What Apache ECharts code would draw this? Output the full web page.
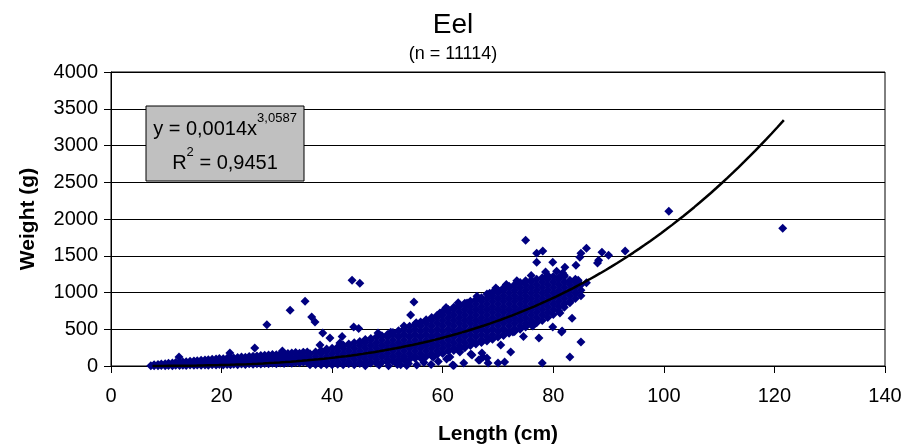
<!DOCTYPE html>
<html>
<head>
<meta charset="utf-8">
<script src="https://cdn.jsdelivr.net/npm/echarts@6/dist/echarts.min.js"></script>
<style>
  html, body { margin: 0; padding: 0; background: #fff; }
  #chart { width: 906px; height: 448px; }
</style>
</head>
<body>
<div id="chart"></div>
<script>
// Eel length-weight measurements (length in cm, weight in g)

// Small eels: dense strip near the x axis, weights listed per length
const smallLength = [7.2, 7.8, 8.5, 9.1, 9.8, 10.4, 11.1, 11.7, 12.4, 13.0, 13.6, 14.3, 15.0, 15.6,
  16.3, 17.0, 17.6, 18.3, 19.0, 19.6, 20.3, 21.0, 21.6, 22.2, 22.9, 23.6, 24.3, 25.0, 25.7, 26.4,
  27.1, 27.8, 28.5, 29.2, 29.9, 30.6, 31.3, 32.0, 32.7, 33.4, 34.1, 34.8, 35.5];
const smallWeight = [[3], [4, 18], [2, 22], [6, 28], [4, 31], [8, 36], [5, 41], [9, 47], [6, 30, 52],
  [11, 56], [7, 33, 59], [12, 40, 63], [9, 38, 68], [14, 44, 71], [10, 42, 77], [15, 48, 81],
  [11, 47, 86], [17, 54, 92], [12, 52, 96], [19, 60, 101], [14, 57, 99], [21, 63, 106],
  [16, 62, 112], [23, 66, 109], [18, 67, 117], [26, 72, 121], [20, 70, 119], [29, 78, 128],
  [23, 77, 132], [31, 84, 137], [26, 83, 142], [34, 90, 147], [29, 88, 151], [37, 96, 156],
  [31, 92, 152], [41, 101, 161], [35, 100, 166], [45, 107, 171], [39, 108, 176], [49, 115, 182],
  [43, 108, 172], [53, 119, 186], [47, 118, 191]];

// Main body of the sample, weights listed per length
const coreLength = [36, 37, 38, 39, 40, 41, 42, 43, 44, 45, 46, 47, 48, 49, 50, 51, 52, 53, 54, 55,
  56, 57, 58, 59, 60, 61, 62, 63, 64, 65, 66, 67, 68, 69, 70, 71, 72, 73, 74, 75, 76, 77, 78, 79,
  80, 81, 82, 83, 84, 85];
const coreWeight = [
  [18, 93, 168], [20, 55, 130, 190], [18, 93, 168, 210], [22, 55, 130, 205, 230],
  [18, 93, 168, 240], [25, 55, 130, 205, 260], [18, 93, 168, 243, 285],
  [30, 55, 130, 205, 280, 300], [18, 93, 168, 243, 315], [35, 55, 130, 205, 280, 335],
  [30, 93, 168, 243, 318, 360], [40, 55, 130, 205, 280, 355, 375],
  [40, 93, 168, 243, 318, 393], [50, 130, 205, 280, 355, 410],
  [55, 93, 168, 243, 318, 393, 430], [65, 130, 205, 280, 355, 430, 455],
  [70, 93, 168, 243, 318, 393, 468, 480], [85, 130, 205, 280, 355, 430, 505],
  [93, 168, 243, 318, 393, 468, 540], [105, 130, 205, 280, 355, 430, 505, 565],
  [110, 168, 243, 318, 393, 468, 543, 600], [130, 205, 280, 355, 430, 505, 580, 630],
  [140, 168, 243, 318, 393, 468, 543, 618, 660], [155, 205, 280, 355, 430, 505, 580, 655, 690],
  [170, 243, 318, 393, 468, 543, 618, 693, 740], [205, 280, 355, 430, 505, 580, 655, 730, 770],
  [210, 243, 318, 393, 468, 543, 618, 693, 768, 800], [230, 280, 355, 430, 505, 580, 655, 730, 805, 830],
  [250, 318, 393, 468, 543, 618, 693, 768, 843, 855], [280, 355, 430, 505, 580, 655, 730, 805, 880],
  [300, 318, 393, 468, 543, 618, 693, 768, 843, 905], [320, 355, 430, 505, 580, 655, 730, 805, 880, 930],
  [340, 393, 468, 543, 618, 693, 768, 843, 918, 980], [365, 430, 505, 580, 655, 730, 805, 880, 955, 1000],
  [393, 468, 543, 618, 693, 768, 843, 918, 993, 1030], [415, 430, 505, 580, 655, 730, 805, 880, 955, 1030, 1060],
  [445, 468, 543, 618, 693, 768, 843, 918, 993, 1068, 1085], [470, 505, 580, 655, 730, 805, 880, 955, 1030, 1105],
  [500, 543, 618, 693, 768, 843, 918, 993, 1068, 1135], [530, 580, 655, 730, 805, 880, 955, 1030, 1105, 1160],
  [560, 618, 693, 768, 843, 918, 993, 1068, 1143, 1165], [590, 655, 730, 805, 880, 955, 1030, 1105, 1180],
  [618, 693, 768, 843, 918, 993, 1068, 1143, 1200], [660, 730, 805, 880, 955, 1030, 1105, 1180, 1230],
  [700, 768, 843, 918, 993, 1068, 1143, 1218], [750, 805, 880, 955, 1030, 1105, 1180, 1205],
  [800, 843, 918, 993, 1068, 1143, 1218, 1235], [860, 880, 955, 1030, 1105, 1165],
  [918, 993, 1068, 1143, 1180], [955, 1030, 1105]
];

// Individual fish away from the main body: [length, weight]
const lowOutliers = [[46, 5], [48.5, 12], [50.2, 3], [51.8, 20], [52.4, 18], [53.5, 8], [53.8, 35],
  [55.3, 12], [56.6, 48], [57.9, 22], [58.3, 120], [59.2, 60], [60.7, 95], [61.3, 122], [61.8, 14],
  [62, 8], [63.1, 190], [63.8, 40], [65.1, 163], [65.3, 150], [66.5, 82], [66.7, 82], [67.1, 177],
  [67.3, 122], [68, 109], [68.2, 41], [70, 41], [70.5, 285], [71.2, 54], [72.3, 190], [72.7, 462],
  [74.6, 400], [76.3, 543], [77.4, 380], [78, 41], [79.9, 530], [81.5, 462], [81.2, 720],
  [81.6, 476], [83, 122], [83.4, 650], [85, 326]];
const highOutliers = [[12.3, 122], [21.5, 176], [26, 245], [28.2, 560], [31, 205], [32.4, 760],
  [34.7, 176], [35.1, 880], [36.3, 665], [36.9, 600], [37.8, 285], [38.3, 450], [39.6, 380],
  [41.4, 312], [41.8, 400], [43.6, 1165], [45, 1125], [43.9, 530], [44.8, 510], [48.3, 448],
  [50.6, 460], [53, 545], [54.2, 695], [54.8, 870], [55.2, 590], [59.5, 720], [60.6, 795],
  [62.8, 860], [64.4, 856], [66.2, 950], [68.5, 990], [69.6, 1060], [71.5, 1110], [73.4, 1160],
  [75, 1712], [76, 1230], [77, 1535], [78.1, 1563], [77, 1413], [78.6, 1280], [79.9, 1413],
  [80.6, 1290], [81.7, 1264], [82.1, 1345], [84.1, 1372], [84.5, 1168], [85, 1535], [84.8, 1480],
  [86, 1603], [86, 1132], [88, 1400], [88.2, 1440], [88.8, 1549], [90, 1508], [93, 1563],
  [100.9, 2106], [121.5, 1875]];

// Power trend line y = a * x^b, as stated in the equation box
const trendA = 0.0014;
const trendB = 3.0587;
const trendR2 = 0.9451;
const trendFrom = 7.5;
const trendTo = 121.7;

const xTicks = { min: 0, max: 140, interval: 20 };
const yTicks = { min: 0, max: 4000, interval: 500 };

function expand(lengths, weights) {
  const out = [];
  lengths.forEach((len, i) => weights[i].forEach(w => out.push([len, w])));
  return out;
}
const points = expand(smallLength, smallWeight)
  .concat(expand(coreLength, coreWeight), lowOutliers, highOutliers);

const trend = [];
for (let x = trendFrom; x < trendTo; x += 1) trend.push([x, trendA * Math.pow(x, trendB)]);
trend.push([trendTo, trendA * Math.pow(trendTo, trendB)]);

const fmt = v => String(v).replace('.', ',');
const FONT = '"Liberation Sans", Arial, sans-serif';

const chart = echarts.init(document.getElementById('chart'), null, { renderer: 'canvas' });
chart.setOption({
  animation: false,
  backgroundColor: '#fff',
  textStyle: { fontFamily: FONT, color: '#000' },
  title: {
    text: 'Eel',
    subtext: '(n = 11114)',
    left: 'center',
    top: 11,
    padding: 0,
    itemGap: 6,
    textStyle: { fontFamily: FONT, fontSize: 28, fontWeight: 'normal', color: '#000' },
    subtextStyle: { fontFamily: FONT, fontSize: 18, color: '#000' }
  },
  grid: {
    left: 111, right: 21, top: 72, bottom: 82,
    outerBoundsMode: 'none',
    show: true, borderColor: '#000', borderWidth: 1, backgroundColor: 'transparent'
  },
  xAxis: {
    type: 'value', min: xTicks.min, max: xTicks.max, interval: xTicks.interval,
    name: 'Length (cm)', nameLocation: 'middle', nameGap: 58,
    nameTextStyle: { fontFamily: FONT, fontSize: 21, fontWeight: 'bold', color: '#000' },
    axisLine: { show: true, lineStyle: { color: '#000', width: 1 } },
    axisTick: { show: true, length: 7, lineStyle: { color: '#000' } },
    axisLabel: { fontFamily: FONT, fontSize: 20, color: '#000', margin: 20 },
    splitLine: { show: false }
  },
  yAxis: {
    type: 'value', min: yTicks.min, max: yTicks.max, interval: yTicks.interval,
    name: 'Weight (g)', nameLocation: 'middle', nameGap: 72,
    nameTextStyle: { fontFamily: FONT, fontSize: 21, fontWeight: 'bold', color: '#000' },
    axisLine: { show: true, lineStyle: { color: '#000', width: 1 } },
    axisTick: { show: true, length: 7, lineStyle: { color: '#000' } },
    axisLabel: { fontFamily: FONT, fontSize: 20, color: '#000', margin: 13, formatter: v => String(v) },
    splitLine: { show: true, lineStyle: { color: '#000', width: 1 } }
  },
  series: [
    {
      type: 'scatter',
      data: points,
      symbol: 'diamond',
      symbolSize: 9,
      itemStyle: { color: '#000080', opacity: 1 },
      z: 2
    },
    {
      type: 'line',
      data: trend,
      showSymbol: false,
      smooth: false,
      lineStyle: { color: '#000', width: 2.5 },
      z: 3
    }
  ],
  graphic: [
    {
      type: 'rect',
      x: 146, y: 106,
      shape: { x: 0, y: 0, width: 158, height: 75 },
      style: { fill: '#c0c0c0', stroke: '#000', lineWidth: 1 },
      z: 10
    },
    {
      type: 'text',
      x: 225, y: 112,
      z: 11,
      style: {
        text: '{m|y = ' + fmt(trendA) + 'x}{s|' + fmt(trendB) + '}\n{m|R}{s|2}{m| = ' + fmt(trendR2) + '}',
        align: 'center',
        verticalAlign: 'top',
        fontFamily: FONT,
        rich: {
          m: { fontFamily: FONT, fontSize: 20, color: '#000', lineHeight: 34 },
          s: { fontFamily: FONT, fontSize: 13, color: '#000', lineHeight: 34, verticalAlign: 'top' }
        }
      }
    }
  ]
});
</script>
</body>
</html>
